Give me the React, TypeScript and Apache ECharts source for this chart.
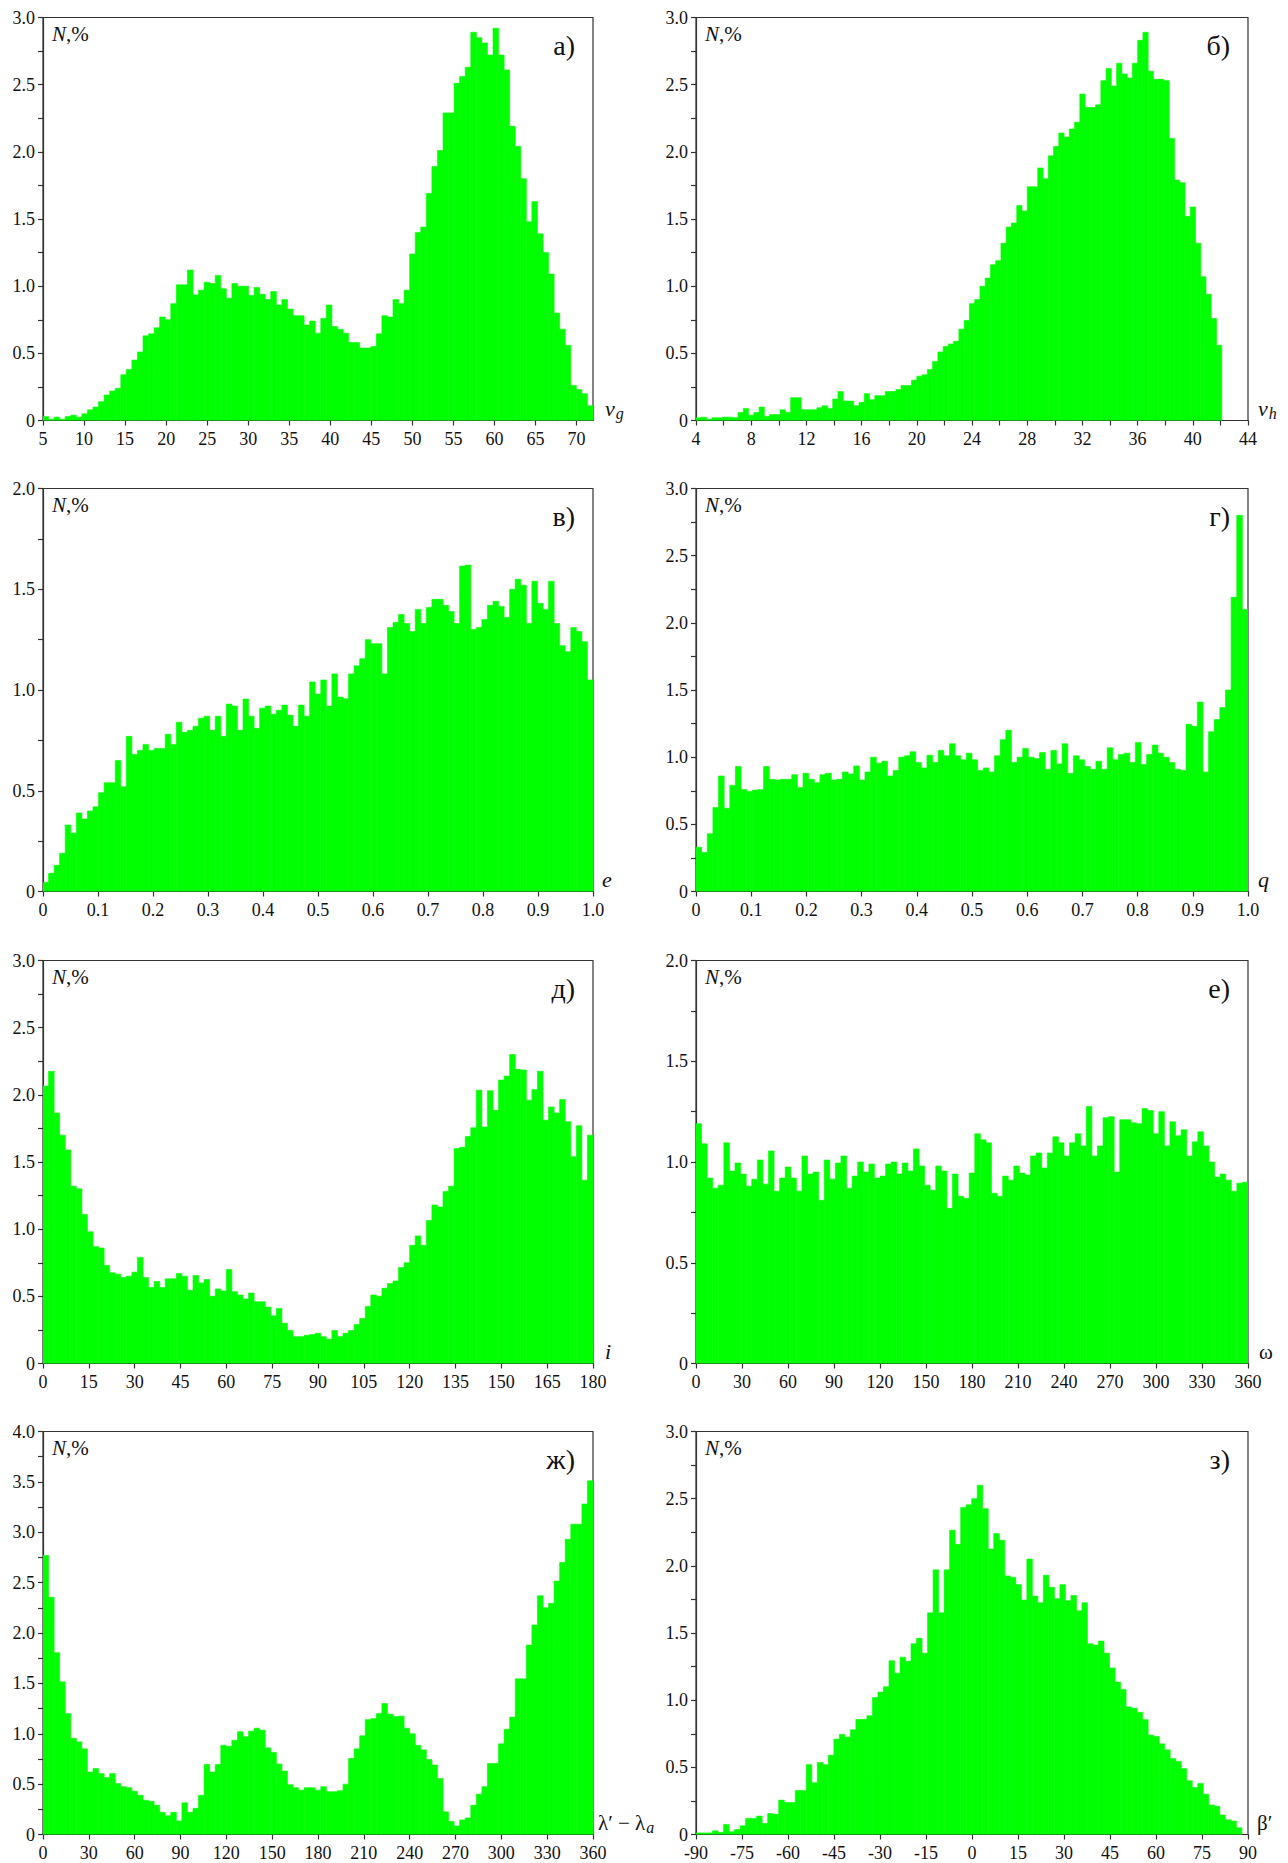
import React, { useEffect, useRef } from 'react';
import * as echarts from 'echarts';

// ---------- data (bar heights, N %) ----------
// а) geocentric velocity v_g, bins over [5, 72]
const vgRange = [5, 72];
const vgValues = [
  0.03, 0.01, 0.025, 0.01, 0.03, 0.04, 0.025, 0.05, 0.08, 0.1,
  0.14, 0.19, 0.22, 0.24, 0.34, 0.38, 0.45, 0.51, 0.63, 0.645,
  0.69, 0.77, 0.75, 0.87, 1.01, 1.01, 1.12, 0.935, 0.97, 1.03,
  1.02, 1.08, 0.98, 0.91, 1.02, 1.0, 1.0, 0.93, 0.99, 0.94,
  0.9, 0.96, 0.86, 0.9, 0.83, 0.78, 0.78, 0.71, 0.74, 0.65,
  0.76, 0.86, 0.7, 0.68, 0.65, 0.58, 0.58, 0.54, 0.54, 0.55,
  0.645, 0.78, 0.77, 0.9, 0.87, 0.97, 1.24, 1.4, 1.44, 1.69,
  1.89, 2.01, 2.29, 2.29, 2.51, 2.56, 2.63, 2.89, 2.85, 2.81,
  2.72, 2.92, 2.72, 2.61, 2.19, 2.04, 1.8, 1.48, 1.63, 1.39,
  1.25, 1.09, 0.8, 0.68, 0.56, 0.26, 0.23, 0.2, 0.11,
];
const vgTicks = [5, 10, 15, 20, 25, 30, 35, 40, 45, 50, 55, 60, 65, 70];
const vgLabels = [5, 10, 15, 20, 25, 30, 35, 40, 45, 50, 55, 60, 65, 70];

// б) heliocentric velocity v_h, bins over [4, 42.1]
const vhRange = [4, 42.1];
const vhValues = [
  0.02, 0.025, 0.01, 0.02, 0.02, 0.025, 0.025, 0.02, 0.06, 0.09,
  0.04, 0.06, 0.1, 0.03, 0.045, 0.045, 0.08, 0.06, 0.17, 0.17,
  0.08, 0.08, 0.08, 0.095, 0.11, 0.09, 0.16, 0.215, 0.145, 0.145,
  0.11, 0.135, 0.2, 0.155, 0.185, 0.185, 0.215, 0.215, 0.23, 0.26,
  0.26, 0.3, 0.33, 0.34, 0.38, 0.44, 0.51, 0.55, 0.57, 0.59,
  0.68, 0.745, 0.87, 0.9, 1.0, 1.06, 1.16, 1.19, 1.32, 1.44,
  1.47, 1.6, 1.56, 1.74, 1.74, 1.88, 1.8, 1.97, 2.04, 2.14,
  2.11, 2.17, 2.22, 2.43, 2.33, 2.33, 2.35, 2.53, 2.62, 2.49,
  2.66, 2.58, 2.55, 2.66, 2.83, 2.89, 2.6, 2.54, 2.54, 2.53,
  2.1, 1.79, 1.77, 1.52, 1.59, 1.32, 1.07, 0.94, 0.76, 0.56,
];
const vhTicks = [4, 6, 8, 10, 12, 14, 16, 18, 20, 22, 24, 26, 28, 30, 32, 34, 36, 38, 40, 42, 44];
const vhLabels = [4, 8, 12, 16, 20, 24, 28, 32, 36, 40, 44];

// в) eccentricity e, bins over [0, 1]
const eRange = [0, 1];
const eValues = [
  0.045, 0.09, 0.13, 0.19, 0.33, 0.29, 0.39, 0.36, 0.4, 0.42,
  0.49, 0.54, 0.54, 0.65, 0.52, 0.77, 0.68, 0.7, 0.73, 0.7,
  0.71, 0.71, 0.78, 0.73, 0.84, 0.79, 0.8, 0.82, 0.86, 0.87,
  0.8, 0.87, 0.77, 0.93, 0.92, 0.8, 0.955, 0.87, 0.81, 0.91,
  0.92, 0.88, 0.9, 0.925, 0.875, 0.82, 0.925, 0.87, 1.04, 0.98,
  1.05, 0.92, 1.08, 0.965, 0.957, 1.08, 1.12, 1.155, 1.25, 1.23,
  1.23, 1.08, 1.31, 1.335, 1.375, 1.33, 1.29, 1.4, 1.33, 1.41,
  1.45, 1.45, 1.42, 1.39, 1.33, 1.615, 1.62, 1.3, 1.31, 1.35,
  1.42, 1.44, 1.415, 1.36, 1.5, 1.55, 1.52, 1.33, 1.54, 1.43,
  1.4, 1.54, 1.33, 1.22, 1.19, 1.31, 1.29, 1.24, 1.05,
];
const unitTicks = [0, 0.1, 0.2, 0.3, 0.4, 0.5, 0.6, 0.7, 0.8, 0.9, 1.0];
const unitLabels = [0, 0.1, 0.2, 0.3, 0.4, 0.5, 0.6, 0.7, 0.8, 0.9, 1.0];

// г) perihelion distance q, bins over [0, 1]
const qRange = [0, 1];
const qValues = [
  0.33, 0.29, 0.43, 0.625, 0.86, 0.62, 0.79, 0.93, 0.76, 0.745,
  0.755, 0.76, 0.93, 0.835, 0.83, 0.835, 0.835, 0.87, 0.775, 0.88,
  0.835, 0.81, 0.87, 0.88, 0.83, 0.835, 0.89, 0.875, 0.935, 0.83,
  0.89, 1.0, 0.955, 0.97, 0.86, 0.9, 1.0, 1.01, 1.04, 0.96,
  0.92, 1.015, 0.96, 1.05, 1.01, 1.1, 1.01, 0.98, 1.03, 0.98,
  0.9, 0.92, 0.89, 1.01, 1.13, 1.2, 0.96, 1.0, 1.065, 1.0,
  0.99, 1.035, 0.91, 1.05, 0.95, 1.1, 0.88, 1.01, 0.98, 0.93,
  0.91, 0.97, 0.91, 1.07, 0.98, 1.02, 1.03, 0.96, 1.11, 0.945,
  1.02, 1.09, 1.03, 1.0, 0.96, 0.91, 0.9, 1.245, 1.23, 1.41,
  0.89, 1.19, 1.28, 1.37, 1.5, 2.19, 2.8, 2.1,
];

// д) inclination i, bins over [0, 180]
const iRange = [0, 180];
const iValues = [
  2.065, 2.175, 1.865, 1.7, 1.59, 1.32, 1.3, 1.11, 0.98, 0.87,
  0.86, 0.73, 0.675, 0.665, 0.64, 0.65, 0.68, 0.79, 0.64, 0.565,
  0.61, 0.565, 0.63, 0.63, 0.67, 0.65, 0.545, 0.655, 0.6, 0.625,
  0.5, 0.555, 0.54, 0.7, 0.535, 0.51, 0.48, 0.525, 0.46, 0.46,
  0.42, 0.355, 0.41, 0.3, 0.245, 0.2, 0.2, 0.21, 0.215, 0.225,
  0.2, 0.18, 0.245, 0.2, 0.225, 0.245, 0.29, 0.335, 0.425, 0.51,
  0.5, 0.56, 0.595, 0.615, 0.715, 0.75, 0.88, 0.95, 0.88, 1.065,
  1.18, 1.165, 1.28, 1.32, 1.6, 1.61, 1.69, 1.755, 2.035, 1.76,
  2.03, 1.885, 2.11, 2.14, 2.3, 2.19, 2.185, 1.96, 2.04, 2.175,
  1.81, 1.91, 1.865, 1.965, 1.8, 1.54, 1.77, 1.365, 1.7,
];
const iTicks = [0, 15, 30, 45, 60, 75, 90, 105, 120, 135, 150, 165, 180];
const iLabels = [0, 15, 30, 45, 60, 75, 90, 105, 120, 135, 150, 165, 180];

// е) argument of perihelion ω, bins over [0, 360]
const omegaRange = [0, 360];
const omegaValues = [
  1.19, 1.09, 0.92, 0.87, 0.885, 1.095, 0.955, 0.995, 0.94, 0.88,
  0.915, 1.01, 0.89, 1.055, 0.855, 0.92, 0.975, 0.92, 0.855, 1.03,
  0.94, 0.95, 0.81, 1.01, 0.915, 0.995, 1.03, 0.87, 0.93, 1.0,
  0.95, 0.99, 0.92, 0.93, 0.99, 1.0, 0.94, 0.995, 0.955, 1.065,
  0.98, 0.885, 0.86, 0.98, 0.955, 0.77, 0.94, 0.83, 0.82, 0.945,
  1.14, 1.11, 1.095, 0.845, 0.83, 0.93, 0.91, 0.98, 0.945, 0.935,
  1.03, 1.045, 0.97, 1.045, 1.125, 1.095, 1.03, 1.095, 1.14, 1.08,
  1.275, 1.03, 1.08, 1.22, 1.225, 0.95, 1.21, 1.21, 1.195, 1.19,
  1.265, 1.255, 1.14, 1.25, 1.08, 1.2, 1.13, 1.16, 1.03, 1.1,
  1.15, 1.08, 1.0, 0.925, 0.94, 0.91, 0.855, 0.895, 0.9,
];
const degTicks = [0, 30, 60, 90, 120, 150, 180, 210, 240, 270, 300, 330, 360];
const degLabels = [0, 30, 60, 90, 120, 150, 180, 210, 240, 270, 300, 330, 360];

// ж) ecliptic longitude λ′ − λa, bins over [0, 360]
const lambdaRange = [0, 360];
const lambdaValues = [
  2.77, 2.355, 1.805, 1.515, 1.2, 0.955, 0.92, 0.85, 0.62, 0.655,
  0.605, 0.565, 0.605, 0.505, 0.475, 0.465, 0.43, 0.39, 0.34, 0.33,
  0.29, 0.22, 0.185, 0.22, 0.135, 0.315, 0.22, 0.26, 0.39, 0.695,
  0.62, 0.695, 0.885, 0.875, 0.935, 1.02, 0.97, 1.025, 1.055, 1.035,
  0.86, 0.815, 0.7, 0.63, 0.495, 0.465, 0.44, 0.465, 0.465, 0.44,
  0.475, 0.425, 0.425, 0.435, 0.5, 0.755, 0.85, 0.98, 1.14, 1.15,
  1.2, 1.3, 1.195, 1.17, 1.175, 1.055, 1.0, 0.885, 0.84, 0.745,
  0.69, 0.555, 0.225, 0.13, 0.085, 0.145, 0.165, 0.29, 0.4, 0.475,
  0.705, 0.705, 0.9, 1.045, 1.165, 1.545, 1.545, 1.88, 2.08, 2.37,
  2.25, 2.295, 2.515, 2.7, 2.93, 3.08, 3.08, 3.28, 3.51,
];

// з) ecliptic latitude β′, bins over [-90, 88]
const betaRange = [-90, 88];
const betaValues = [
  0.012, 0.012, 0.012, 0.027, 0.015, 0.075, 0.02, 0.037, 0.065, 0.12,
  0.12, 0.137, 0.082, 0.156, 0.15, 0.256, 0.238, 0.238, 0.328, 0.328,
  0.52, 0.385, 0.536, 0.52, 0.59, 0.71, 0.745, 0.725, 0.78, 0.857,
  0.857, 0.884, 1.02, 1.06, 1.1, 1.293, 1.2, 1.32, 1.29, 1.42,
  1.46, 1.35, 1.65, 1.97, 1.65, 1.97, 2.265, 2.16, 2.435, 2.455,
  2.5, 2.6, 2.425, 2.125, 2.24, 2.19, 1.925, 1.915, 1.86, 1.745,
  2.05, 1.775, 1.725, 1.93, 1.84, 1.755, 1.86, 1.74, 1.78, 1.665,
  1.725, 1.42, 1.41, 1.44, 1.35, 1.24, 1.135, 1.08, 0.95, 0.94,
  0.91, 0.855, 0.74, 0.73, 0.675, 0.63, 0.565, 0.545, 0.49, 0.4,
  0.35, 0.38, 0.3, 0.22, 0.21, 0.145, 0.11, 0.1, 0.05,
];
const betaTicks = [-90, -75, -60, -45, -30, -15, 0, 15, 30, 45, 60, 75, 90];
const betaLabels = [-90, -75, -60, -45, -30, -15, 0, 15, 30, 45, 60, 75, 90];

// y axes
const y3Ticks = [0, 0.25, 0.5, 0.75, 1, 1.25, 1.5, 1.75, 2, 2.25, 2.5, 2.75, 3];
const y3Labels = [0, 0.5, 1, 1.5, 2, 2.5, 3];
const y2Ticks = [0, 0.25, 0.5, 0.75, 1, 1.25, 1.5, 1.75, 2];
const y2Labels = [0, 0.5, 1, 1.5, 2];
const y4Ticks = [0, 0.25, 0.5, 0.75, 1, 1.25, 1.5, 1.75, 2, 2.25, 2.5, 2.75, 3, 3.25, 3.5, 3.75, 4];
const y4Labels = [0, 0.5, 1, 1.5, 2, 2.5, 3, 3.5, 4];

// ---------- styling / layout ----------
const GREEN = '#00ff00';
const AXIS = '#333333';
const FONT = 'Liberation Serif';
const COL_LEFT = [43, 696];
const COL_WIDTH = [550, 552];
const ROW_TOP = [17.5, 488.5, 960.5, 1431.5];
const PLOT_H = 403;
const TICK_FONT = 18;

const dec = (v: number) => (Math.abs(v) < 1e-9 ? '0' : v.toFixed(1));
const int = (v: number) => String(Math.round(v));

const panels = [
  { tag: 'а)', range: vgRange, values: vgValues, xTicks: vgTicks, xLabels: vgLabels, xFmt: int, yMax: 3, yTicks: y3Ticks, yLabels: y3Labels, name: '{i|v}{si|g}', nameDx: 12 },
  { tag: 'б)', range: [4, 44], binEnd: vhRange[1], values: vhValues, xTicks: vhTicks, xLabels: vhLabels, xFmt: int, yMax: 3, yTicks: y3Ticks, yLabels: y3Labels, name: '{i|v}{si|h}', nameDx: 10 },
  { tag: 'в)', range: eRange, values: eValues, xTicks: unitTicks, xLabels: unitLabels, xFmt: dec, yMax: 2, yTicks: y2Ticks, yLabels: y2Labels, name: '{i|e}', nameDx: 9 },
  { tag: 'г)', range: qRange, values: qValues, xTicks: unitTicks, xLabels: unitLabels, xFmt: dec, yMax: 3, yTicks: y3Ticks, yLabels: y3Labels, name: '{i|q}', nameDx: 10 },
  { tag: 'д)', range: iRange, values: iValues, xTicks: iTicks, xLabels: iLabels, xFmt: int, yMax: 3, yTicks: y3Ticks, yLabels: y3Labels, name: '{i|i}', nameDx: 12 },
  { tag: 'е)', range: omegaRange, values: omegaValues, xTicks: degTicks, xLabels: degLabels, xFmt: int, yMax: 2, yTicks: y2Ticks, yLabels: y2Labels, name: '{r|ω}', nameDx: 11 },
  { tag: 'ж)', range: lambdaRange, values: lambdaValues, xTicks: degTicks, xLabels: degLabels, xFmt: int, yMax: 4, yTicks: y4Ticks, yLabels: y4Labels, name: '{r|λ′ − λ}{si|a}', nameDx: 5 },
  { tag: 'з)', range: [-90, 90], binEnd: betaRange[1], values: betaValues, xTicks: betaTicks, xLabels: betaLabels, xFmt: int, yMax: 3, yTicks: y3Ticks, yLabels: y3Labels, name: '{r|β′}', nameDx: 9 },
];

const richName = {
  i: { fontFamily: FONT, fontStyle: 'italic', fontSize: 22, lineHeight: 22, color: '#111' },
  r: { fontFamily: FONT, fontSize: 21, lineHeight: 22, color: '#111' },
  si: { fontFamily: FONT, fontStyle: 'italic', fontSize: 16, lineHeight: 14, padding: [10, 0, 0, 1], color: '#111' },
};

function buildOption() {
  const grid: any[] = [];
  const xAxis: any[] = [];
  const yAxis: any[] = [];
  const series: any[] = [];
  const graphic: any[] = [];

  panels.forEach((p: any, k: number) => {
    const col = k % 2;
    const row = Math.floor(k / 2);
    const left = COL_LEFT[col];
    const width = COL_WIDTH[col];
    const top = ROW_TOP[row];
    const right = left + width;
    const bottom = top + PLOT_H;

    grid.push({ left, top, width, height: PLOT_H, show: true, borderColor: AXIS, borderWidth: 1.2, backgroundColor: 'transparent' });

    const start = p.range[0];
    const end = p.binEnd !== undefined ? p.binEnd : p.range[1];
    const w = (end - start) / p.values.length;
    const bins = p.values.map((v: number, i: number) => [start + i * w, start + (i + 1) * w, v]);

    xAxis.push({
      gridIndex: k, type: 'value', min: p.range[0], max: p.range[1],
      axisLine: { show: true, onZero: false, lineStyle: { color: AXIS, width: 1.2 } },
      axisTick: { show: true, length: 5, customValues: p.xTicks, lineStyle: { color: AXIS, width: 1.2 } },
      axisLabel: { customValues: p.xLabels, formatter: p.xFmt, fontFamily: FONT, fontSize: TICK_FONT, color: '#111', margin: 9 },
      splitLine: { show: false },
    });
    yAxis.push({
      gridIndex: k, type: 'value', min: 0, max: p.yMax,
      axisLine: { show: true, onZero: false, lineStyle: { color: AXIS, width: 1.2 } },
      axisTick: { show: true, length: 5, customValues: p.yTicks, lineStyle: { color: AXIS, width: 1.2 } },
      axisLabel: { customValues: p.yLabels, formatter: dec, fontFamily: FONT, fontSize: TICK_FONT, color: '#111', margin: 8 },
      splitLine: { show: false },
    });
    series.push({
      type: 'custom', xAxisIndex: k, yAxisIndex: k, data: bins, clip: true, silent: true,
      encode: { x: [0, 1], y: 2 },
      renderItem: (params: any, api: any) => {
        const p0 = api.coord([api.value(0), api.value(2)]);
        const p1 = api.coord([api.value(1), 0]);
        return {
          type: 'rect',
          shape: { x: p0[0], y: p0[1], width: p1[0] - p0[0], height: p1[1] - p0[1] },
          style: { fill: GREEN, stroke: GREEN, lineWidth: 0.6 },
        };
      },
    });

    graphic.push({
      type: 'text', x: left + 9, y: top + 16,
      style: {
        text: '{i|N},%', fontFamily: FONT, fontSize: 21, fill: '#111', verticalAlign: 'middle', align: 'left',
        rich: { i: { fontFamily: FONT, fontStyle: 'italic', fontSize: 21, color: '#111' } },
      },
    });
    graphic.push({
      type: 'text', x: right - 18, y: top + 28,
      style: { text: p.tag, fontFamily: FONT, fontSize: 28, fill: '#111', align: 'right', verticalAlign: 'middle' },
    });
    graphic.push({
      type: 'text', x: right + p.nameDx, y: bottom - 12,
      style: { text: p.name, rich: richName, align: 'left', verticalAlign: 'middle', fontFamily: FONT, fontSize: 21, fill: '#111' },
    });
  });

  return { animation: false, backgroundColor: '#ffffff', grid, xAxis, yAxis, series, graphic };
}

export default function App() {
  const ref = useRef<HTMLDivElement>(null);
  useEffect(() => {
    const chart = echarts.init(ref.current as HTMLDivElement, null, { renderer: 'svg' });
    chart.setOption(buildOption() as any);
    return () => chart.dispose();
  }, []);
  return (
    <div
      ref={ref}
      style={{ position: 'absolute', left: 0, top: 0, width: 1288, height: 1863, background: '#ffffff' }}
    />
  );
}
